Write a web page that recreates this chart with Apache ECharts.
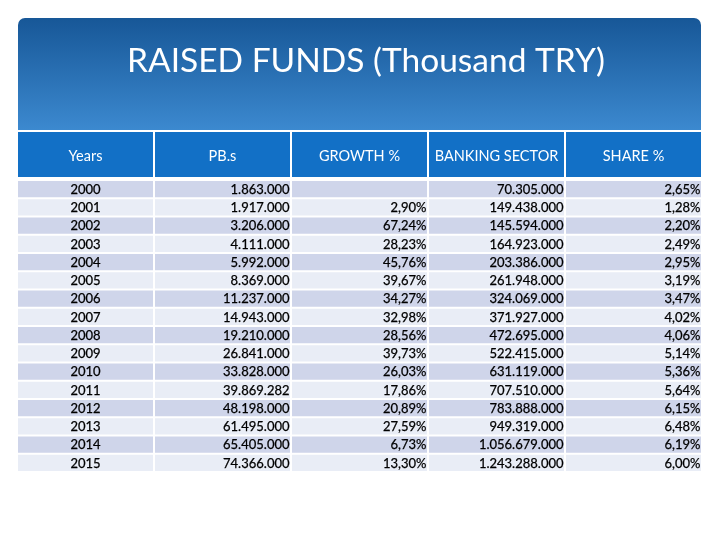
<!DOCTYPE html>
<html>
<head>
<meta charset="utf-8">
<script src="https://cdn.jsdelivr.net/npm/echarts@6/dist/echarts.min.js"></script>
<style>html,body{margin:0;padding:0;background:#fff}#c{width:720px;height:540px}</style>
</head>
<body>
<div id="c"></div>
<script>
var titleText = 'RAISED FUNDS (Thousand TRY)';
var columns = ['Years', 'PB.s', 'GROWTH %', 'BANKING SECTOR', 'SHARE %'];
var years = ['2000','2001','2002','2003','2004','2005','2006','2007','2008','2009','2010','2011','2012','2013','2014','2015'];
var pbs = [1863000,1917000,3206000,4111000,5992000,8369000,11237000,14943000,19210000,26841000,33828000,39869282,48198000,61495000,65405000,74366000];
var growth = [null,2.90,67.24,28.23,45.76,39.67,34.27,32.98,28.56,39.73,26.03,17.86,20.89,27.59,6.73,13.30];
var banking = [70305000,149438000,145594000,164923000,203386000,261948000,324069000,371927000,472695000,522415000,631119000,707510000,783888000,949319000,1056679000,1243288000];
var share = [2.65,1.28,2.20,2.49,2.95,3.19,3.47,4.02,4.06,5.14,5.36,5.64,6.15,6.48,6.19,6.00];

function fmtInt(v) {
  return String(v).replace(/\B(?=(\d{3})+(?!\d))/g, '.');
}
function fmtPct(v) {
  if (v == null) return '';
  return v.toFixed(2).replace('.', ',') + '%';
}

var cellData = [];
years.forEach(function (y, i) {
  cellData.push([0, i, y]);
  cellData.push([1, i, fmtInt(pbs[i])]);
  cellData.push([2, i, fmtPct(growth[i])]);
  cellData.push([3, i, fmtInt(banking[i])]);
  cellData.push([4, i, fmtPct(share[i])]);
});
var headData = columns.map(function (c, j) { return [j, 0, c]; });

var FONT = 'Lato, "Open Sans", sans-serif';

function renderCell(params, api) {
  var col = api.value(0), row = api.value(1);
  var c = api.coord([col, row]);
  var s = api.size([1, 1]);
  var x0 = c[0] - s[0] / 2, y0 = c[1] - s[1] / 2;
  var txt = cellData[params.dataIndex][2];
  var fill = (row % 2 === 0) ? '#cfd5ea' : '#e9edf6';
  var right = col !== 0;
  return {
    type: 'group',
    children: [
      { type: 'rect', shape: { x: x0 + 1, y: y0 + 1, width: s[0] - 2, height: s[1] - 2 }, style: { fill: fill } },
      { type: 'text', x: right ? x0 + s[0] - 1.5 : c[0], y: c[1] + 0.5,
        style: { text: txt, fill: '#000', font: 'normal 13px ' + FONT,
                 stroke: '#000', lineWidth: 0.25,
                 align: right ? 'right' : 'center', verticalAlign: 'middle' } }
    ]
  };
}
function renderHead(params, api) {
  var col = api.value(0), row = api.value(1);
  var c = api.coord([col, row]);
  var s = api.size([1, 1]);
  var x0 = c[0] - s[0] / 2, y0 = c[1] - s[1] / 2;
  return {
    type: 'group',
    children: [
      { type: 'rect', shape: { x: x0 + 1, y: y0 + 1, width: s[0] - 2, height: s[1] - 2 }, style: { fill: '#1270c6' } },
      { type: 'text', x: c[0], y: c[1] + 1.5,
        style: { text: headData[params.dataIndex][2], fill: '#fff', font: 'normal 14.5px ' + FONT,
                 align: 'center', verticalAlign: 'middle' } }
    ]
  };
}

var chart = echarts.init(document.getElementById('c'), null, { renderer: 'canvas' });
chart.setOption({
  animation: false,
  backgroundColor: '#fff',
  graphic: [
    { type: 'rect', left: 18, top: 18, shape: { width: 683, height: 112, r: [7, 7, 0, 0] },
      style: { fill: new echarts.graphic.LinearGradient(0, 0, 0, 1, [
        { offset: 0, color: '#175797' }, { offset: 1, color: '#3c89cf' }]) } },
    { type: 'text', x: 366, y: 61,
      style: { text: titleText, fill: '#fff', font: 'normal 33.5px ' + FONT,
               align: 'center', verticalAlign: 'middle' } }
  ],
  grid: [
    { left: 17, right: 18, top: 131, height: 47 },
    { left: 17, right: 18, top: 180, height: 292 }
  ],
  xAxis: [
    { type: 'category', gridIndex: 0, data: columns, show: false },
    { type: 'category', gridIndex: 1, data: columns, show: false }
  ],
  yAxis: [
    { type: 'category', gridIndex: 0, data: ['h'], show: false },
    { type: 'category', gridIndex: 1, data: years, inverse: true, show: false }
  ],
  series: [
    { type: 'custom', xAxisIndex: 0, yAxisIndex: 0, renderItem: renderHead, data: headData },
    { type: 'custom', xAxisIndex: 1, yAxisIndex: 1, renderItem: renderCell, data: cellData }
  ]
});
</script>
</body>
</html>
